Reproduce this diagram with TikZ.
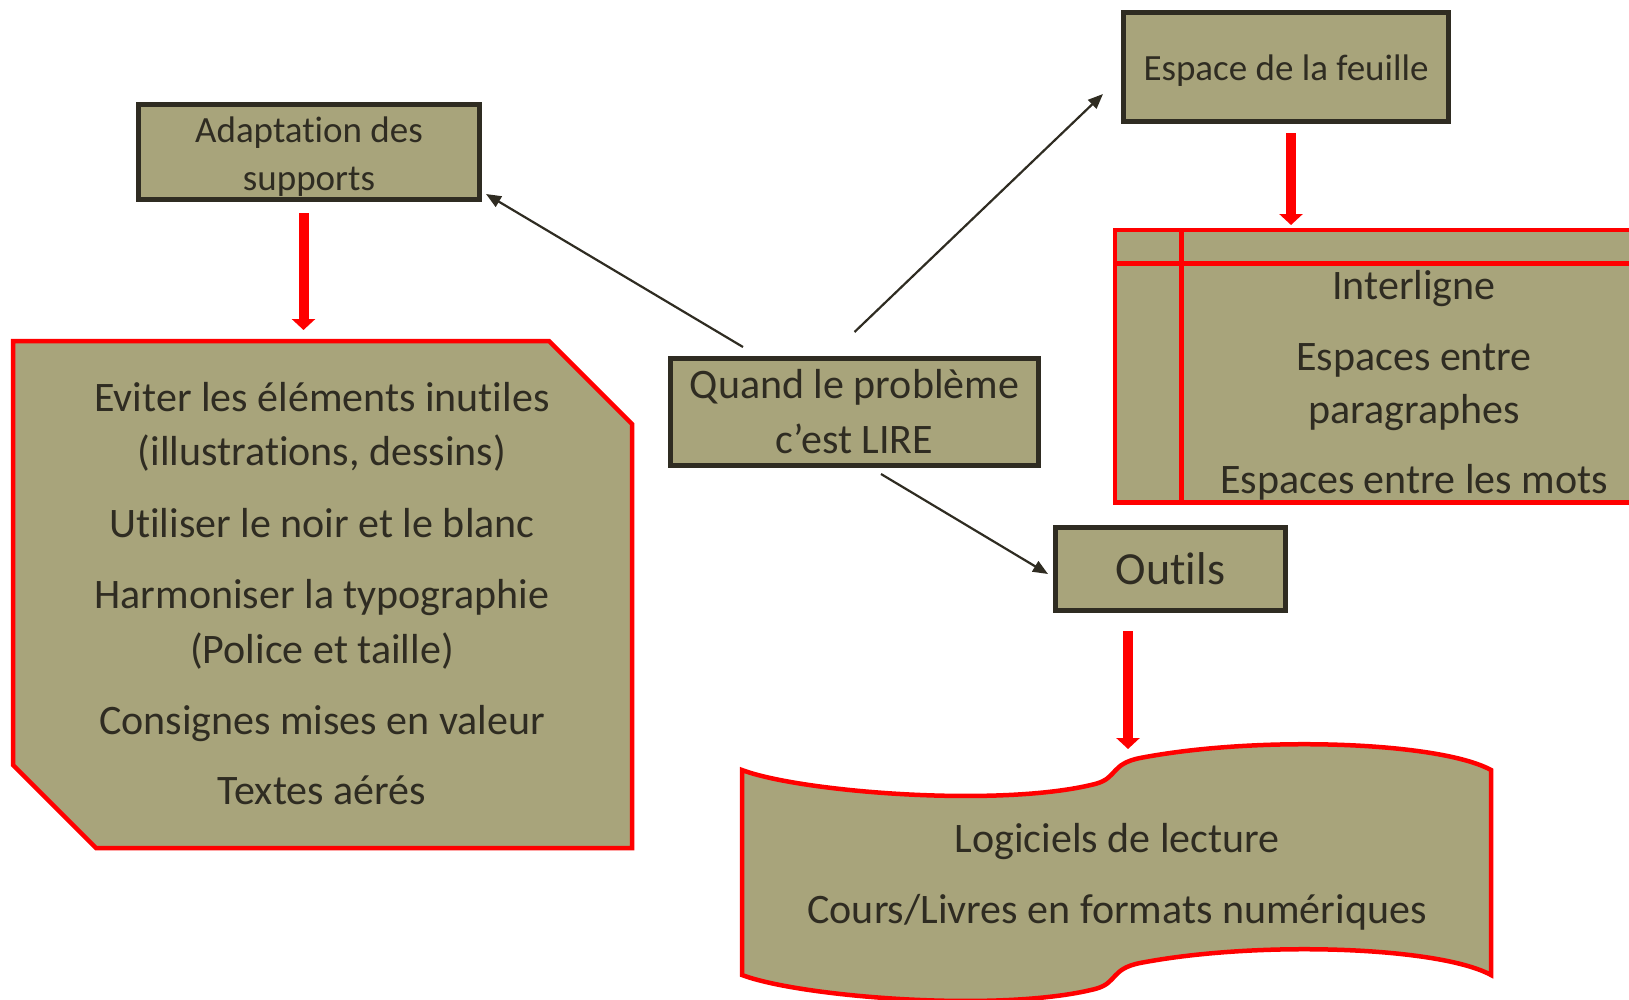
\documentclass[tikz,border=0pt]{standalone}
\usepackage{fontspec}
\setmainfont[Ligatures=NoCommon]{Carlito}
\usetikzlibrary{arrows.meta,calc}

\definecolor{khaki}{HTML}{A8A47B}
\definecolor{ink}{HTML}{2F2C22}
\definecolor{alert}{HTML}{FF0000}

\begin{document}
\begin{tikzpicture}[x=1pt, y=-1pt,
  every node/.style={text=ink},
  box/.style={draw=ink, line width=5pt, fill=khaki, align=center, inner sep=0pt},
  frame/.style={draw=alert, line width=4.5pt, fill=khaki},
  link/.style={draw=ink, line width=2.2pt, -{Triangle[length=15pt,width=12pt]}},
  push/.style={draw=alert, line width=10pt, -{Triangle[length=11pt,width=23pt]}},
  mid/.style={font=\fontsize{37}{48}\selectfont},
  big/.style={font=\fontsize{42}{55}\selectfont},
  row/.style={big, anchor=base}]

\useasboundingbox (0,0) rectangle (1629,999);
\clip (0,0) rectangle (1629,999);

% the four boxes
\node[box, mid, minimum width=341pt, minimum height=95pt] (adapt) at (309,152) {\rule{0pt}{34pt}Adaptation des\\supports};
\node[box, mid, minimum width=325pt, minimum height=109pt] (espace) at (1286,67) {\rule{0pt}{33pt}Espace de la feuille};
\node[box, big, minimum width=368pt, minimum height=107pt] (quand) at (854.5,412) {Quand le problème\\c’est LIRE};
\node[box, font=\fontsize{46}{55}\selectfont, minimum width=230pt, minimum height=83pt] (outils) at (1170.5,569) {Outils};

% left block
\draw[frame] (13,341) -- (549,341) -- (632,424) -- (632,848) -- (96,848) -- (13,765) -- cycle;
\foreach \y/\t [count=\i] in {411/Eviter les éléments inutiles, 465/{(illustrations, dessins)},
    537/Utiliser le noir et le blanc, 608/Harmoniser la typographie, 663/(Police et taille),
    734/Consignes mises en valeur, 804/Textes aérés}
  \node[row] (regle\i) at (322,\y) {\t};
\coordinate (regle-top) at (303.5,330);

% table
\draw[frame] (1115,230) rectangle (1660,502.5);
\draw[alert, line width=4.5pt] (1115,263.5) -- (1660,263.5) (1181.5,230) -- (1181.5,502.5);
\foreach \y/\t [count=\i] in {299/Interligne, 370/Espaces entre, 423/paragraphes, 493/Espaces entre les mots}
  \node[row] (ecart\i) at (1414,\y) {\t};
\coordinate (ecart-top) at (1291,225);

% wave
\draw[frame] (742,770) .. controls (800,792) and (1000,808) .. (1095,784)
  .. controls (1118,778) and (1110,764) .. (1140,758)
  .. controls (1260,735) and (1440,742) .. (1491,770) -- (1491,975)
  .. controls (1440,947) and (1260,940) .. (1140,963)
  .. controls (1110,969) and (1118,983) .. (1095,989)
  .. controls (1000,1013) and (800,997) .. (742,975) -- cycle;
\node[row] (logiciel) at (1117,852) {Logiciels de lecture};
\node[row] (format) at (1117,923) {Cours/Livres en formats numériques};
\coordinate (outil-top) at (1128,749);

% arrows
\draw[link] ($(quand.north)+(-111.5,-9)$) -- ($(adapt.south east)+(4,-8)$);
\draw[link] ($(quand.north)+(0,-24)$) -- ($(espace.south west)+(-18,-30)$);
\draw[link] ($(quand.south)+(26.5,6)$) -- ($(outils.west)+(-5,5)$);
\draw[push] ($(adapt.south)+(-5.5,11)$) -- (regle-top);
\draw[push] ($(espace.south)+(5,9)$) -- (ecart-top);
\draw[push] ($(outils.south)+(-42.5,18)$) -- (outil-top);
\end{tikzpicture}
\end{document}
